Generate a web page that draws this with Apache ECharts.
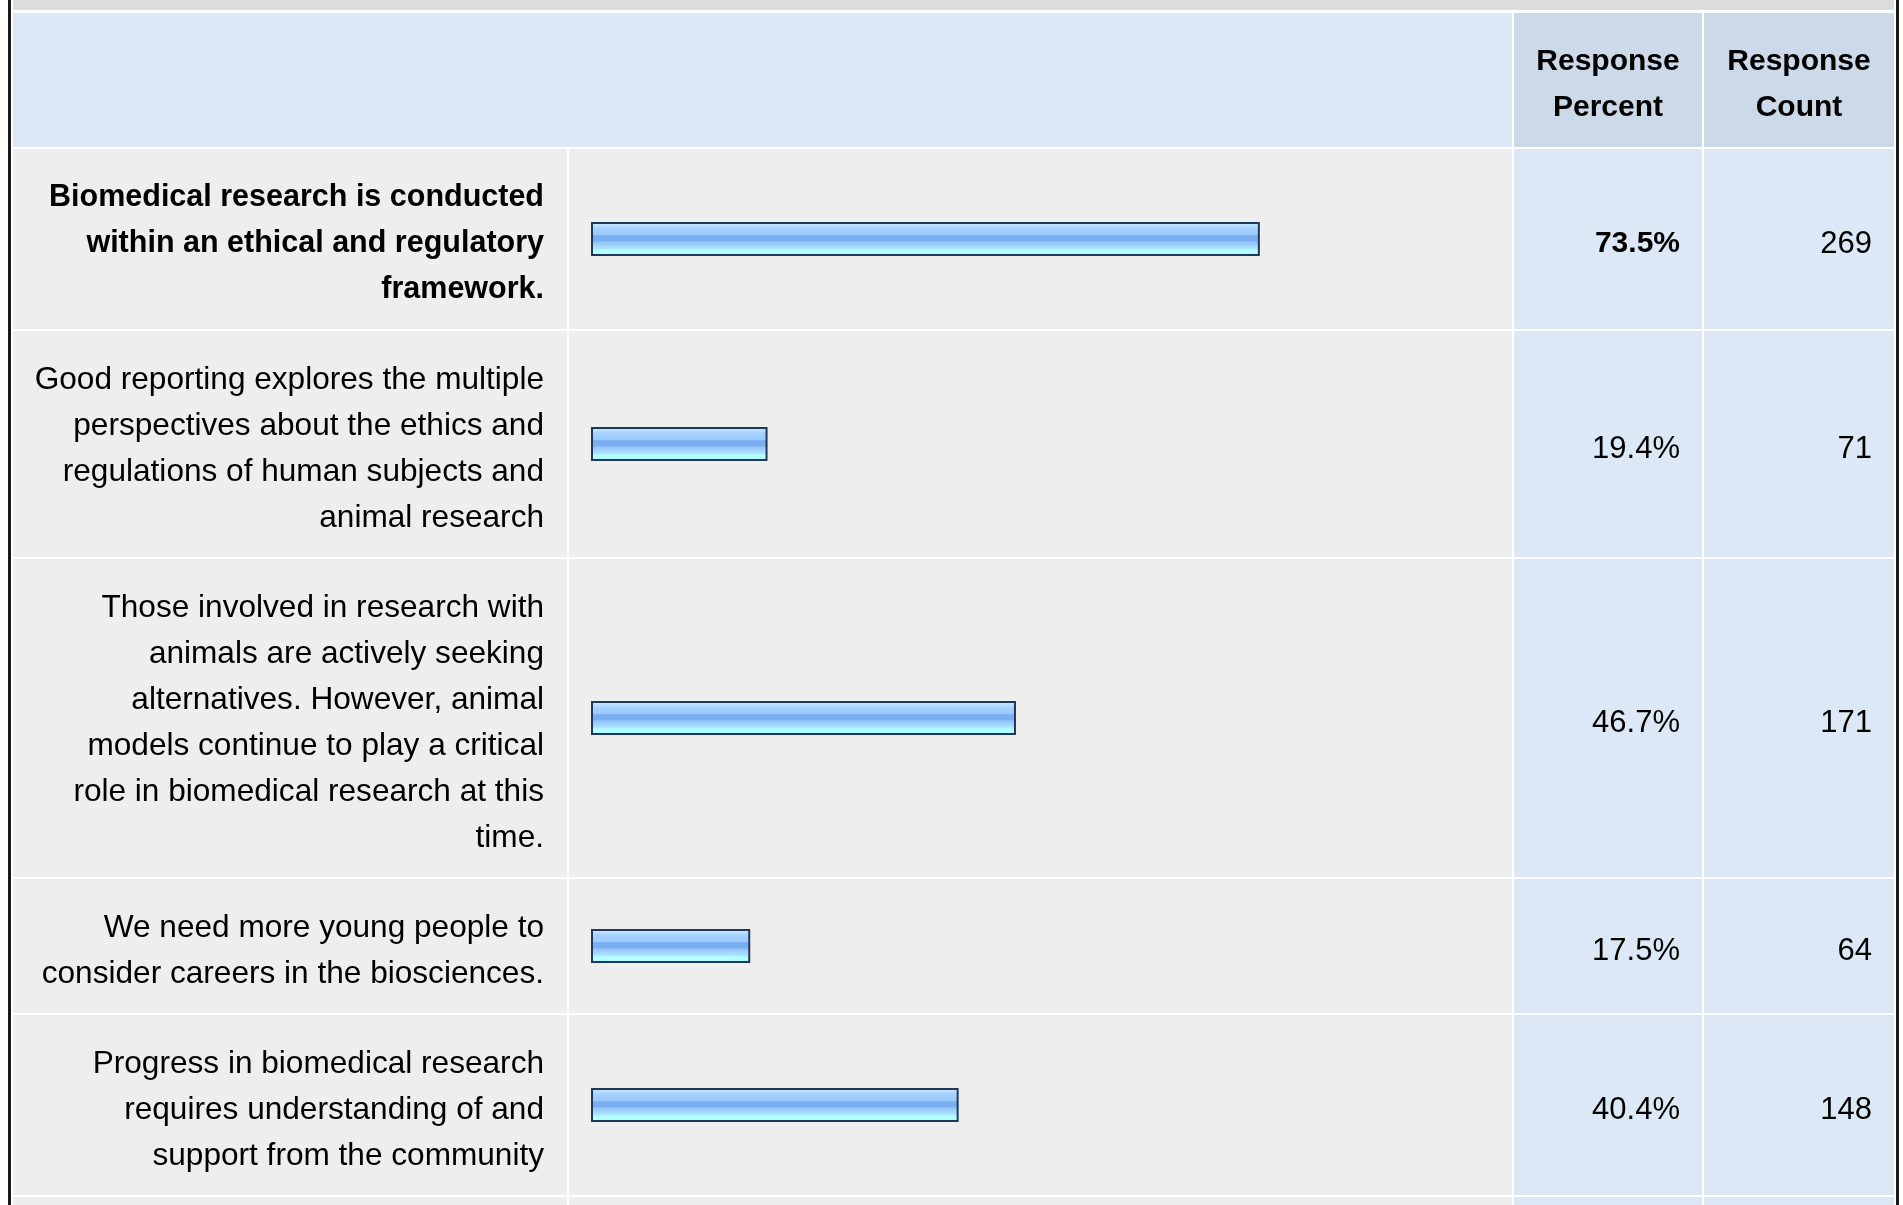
<!DOCTYPE html>
<html>
<head>
<meta charset="utf-8">
<script src="https://cdn.jsdelivr.net/npm/echarts@6/dist/echarts.min.js"></script>
<style>
html,body{margin:0;padding:0;background:#fff;}
#chart{width:1903px;height:1205px;}
</style>
</head>
<body>
<div id="chart"></div>
<script>
// ---- data ----
const categories = [
  "Biomedical research is conducted\nwithin an ethical and regulatory\nframework.",
  "Good reporting explores the multiple\nperspectives about the ethics and\nregulations of human subjects and\nanimal research",
  "Those involved in research with\nanimals are actively seeking\nalternatives. However, animal\nmodels continue to play a critical\nrole in biomedical research at this\ntime.",
  "We need more young people to\nconsider careers in the biosciences.",
  "Progress in biomedical research\nrequires understanding of and\nsupport from the community"
];
const percents = [73.5, 19.4, 46.7, 17.5, 40.4];
const counts = [269, 71, 171, 64, 148];
const headers = ["Response\nPercent", "Response\nCount"];
const boldRows = [0];

// ---- layout ----
const FONT = "'Liberation Sans', Arial, Helvetica, sans-serif";
const LINE_H = 46, ROW_PAD = 42, GAP = 2, TEXT_SHIFT = 5;
const X0 = 13, LABEL_END = 567, BAR_END = 1512, PCT_END = 1702, CNT_END = 1894;
const HEADER_TOP = 13, HEADER_BOTTOM = 147;
const BAR_LEFT = 591, BAR_RIGHT = 1501;
const LIGHT_BLUE = '#dce8f5', DARK_BLUE = '#ccd9e8', GRAY = '#eeeeee';
const REG_SIZE = 31.6, BOLD_SIZE = 30.5;

const chart = echarts.init(document.getElementById('chart'), null, {renderer: 'canvas'});

const grids = [], xAxes = [], yAxes = [], seriesList = [];
const graphics = [];

function rect(x, y, w, h, fill) {
  graphics.push({type: 'rect', silent: true, z: -10, shape: {x: x, y: y, width: w, height: h}, style: {fill: fill}});
}

// frame
rect(8, 0, 3, 1205, '#1a1a1a');
rect(1896, 0, 3, 1205, '#1a1a1a');
rect(X0, 0, CNT_END - X0, 10, '#dcdcdc');
// header
rect(X0, HEADER_TOP, BAR_END - X0, HEADER_BOTTOM - HEADER_TOP, LIGHT_BLUE);
rect(BAR_END + GAP, HEADER_TOP, PCT_END - BAR_END - GAP, HEADER_BOTTOM - HEADER_TOP, DARK_BLUE);
rect(PCT_END + GAP, HEADER_TOP, CNT_END - PCT_END - GAP, HEADER_BOTTOM - HEADER_TOP, DARK_BLUE);
const headerCenters = [(BAR_END + GAP + PCT_END) / 2, (PCT_END + GAP + CNT_END) / 2];
headers.forEach(function (h, i) {
  graphics.push({
    type: 'text', silent: true, z: 5,
    x: headerCenters[i], y: (HEADER_TOP + HEADER_BOTTOM) / 2 + 4.5,
    style: {text: h, fill: '#000', font: 'bold 30px ' + FONT, align: 'center', verticalAlign: 'middle', lineHeight: LINE_H}
  });
});

function rowCells(y, h) {
  rect(X0, y, LABEL_END - X0, h, GRAY);
  rect(LABEL_END + GAP, y, BAR_END - LABEL_END - GAP, h, GRAY);
  rect(BAR_END + GAP, y, PCT_END - BAR_END - GAP, h, LIGHT_BLUE);
  rect(PCT_END + GAP, y, CNT_END - PCT_END - GAP, h, LIGHT_BLUE);
}

const barGradient = new echarts.graphic.LinearGradient(0, 0, 0, 1, [
  {offset: 0, color: '#d2eaff'},
  {offset: 0.12, color: '#b6dcff'},
  {offset: 0.2, color: '#a3d0ff'},
  {offset: 0.38, color: '#9ccafd'},
  {offset: 0.40, color: '#79aff2'},
  {offset: 0.56, color: '#79aff2'},
  {offset: 0.58, color: '#8fc3fb'},
  {offset: 0.72, color: '#a7d9ff'},
  {offset: 0.80, color: '#abecff'},
  {offset: 0.82, color: '#b2ffff'},
  {offset: 1, color: '#b2ffff'}
]);

const hidden = {axisLine: {show: false}, axisTick: {show: false}, splitLine: {show: false}};

let rowTop = HEADER_BOTTOM + GAP;
categories.forEach(function (cat, i) {
  const lines = cat.split('\n').length;
  const h = LINE_H * lines + ROW_PAD;
  rowCells(rowTop, h);
  const bold = boldRows.indexOf(i) >= 0;
  const gBar = grids.length, gText = gBar + 1;
  // bar grid
  grids.push({left: BAR_LEFT, width: BAR_RIGHT - BAR_LEFT, top: rowTop, height: h});
  xAxes.push({type: 'value', gridIndex: gBar, min: 0, max: 100, show: false});
  const barAxis = yAxes.length;
  yAxes.push(Object.assign({type: 'category', gridIndex: gBar, data: [cat], axisLabel: {show: false}}, hidden));
  // text grid (labels for the row)
  grids.push({left: BAR_LEFT, width: BAR_RIGHT - BAR_LEFT, top: rowTop + TEXT_SHIFT, height: h});
  xAxes.push({type: 'value', gridIndex: gText, min: 0, max: 100, show: false});
  yAxes.push(Object.assign({type: 'category', gridIndex: gText, position: 'left', data: [cat],
    axisLabel: {interval: 0, margin: BAR_LEFT - 544, align: 'right', color: '#000', fontFamily: FONT,
      fontSize: bold ? BOLD_SIZE : REG_SIZE, fontWeight: bold ? 'bold' : 'normal', lineHeight: LINE_H, verticalAlign: 'middle'}
  }, hidden));
  yAxes.push(Object.assign({type: 'category', gridIndex: gText, position: 'right', data: [percents[i].toFixed(1) + '%'],
    axisLabel: {interval: 0, margin: 1680 - BAR_RIGHT, align: 'right', color: '#000', fontFamily: FONT,
      fontSize: bold ? 30 : 31, fontWeight: bold ? 'bold' : 'normal', verticalAlign: 'middle'}
  }, hidden));
  yAxes.push(Object.assign({type: 'category', gridIndex: gText, position: 'right', data: [String(counts[i])],
    axisLabel: {interval: 0, margin: 1872 - BAR_RIGHT, align: 'right', color: '#000', fontFamily: FONT,
      fontSize: 31, fontWeight: 'normal', verticalAlign: 'middle'}
  }, hidden));
  seriesList.push({
    type: 'bar', xAxisIndex: gBar, yAxisIndex: barAxis, data: [percents[i]],
    barWidth: 34, silent: true, animation: false,
    itemStyle: {color: barGradient, borderColor: '#1e3859', borderWidth: 2}
  });
  rowTop += h + GAP;
});
// partially visible next row
rowCells(rowTop, 1205 - rowTop);

chart.setOption({
  animation: false,
  backgroundColor: '#ffffff',
  grid: grids,
  xAxis: xAxes,
  yAxis: yAxes,
  series: seriesList,
  graphic: {elements: graphics}
});
</script>
</body>
</html>
